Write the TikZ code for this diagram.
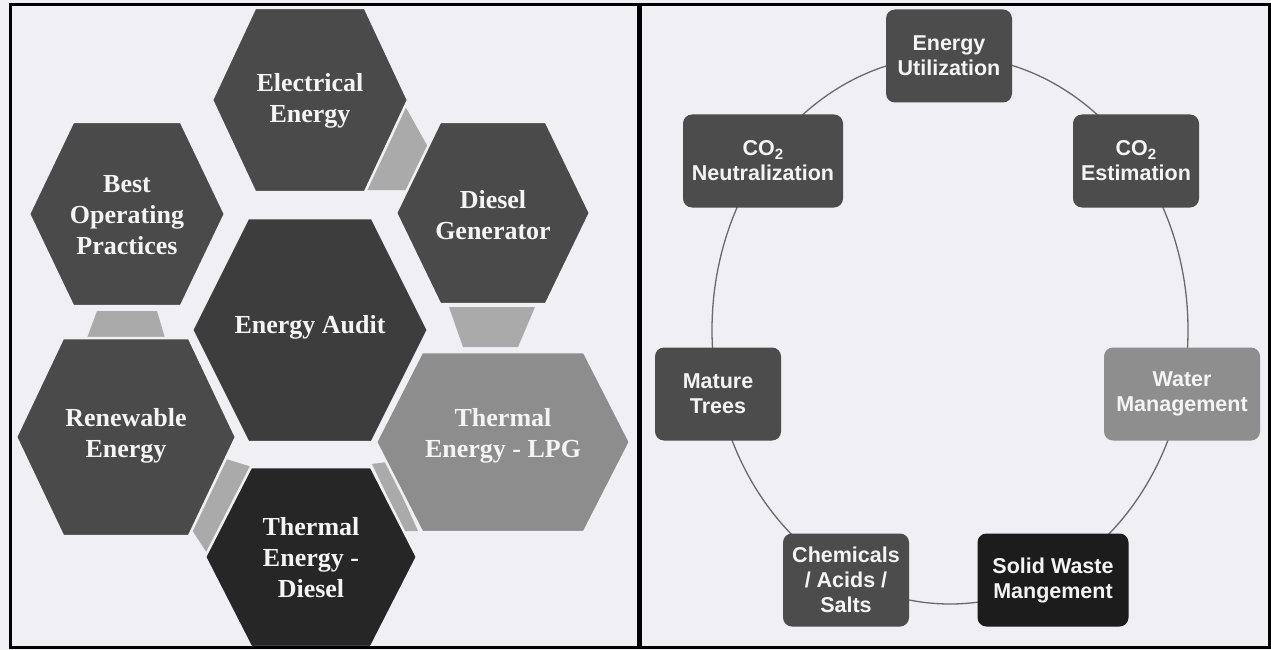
\documentclass[tikz,border=0pt]{standalone}
\usepackage{fontspec}
\setmainfont{Liberation Serif}
\newfontfamily\boxfont{Liberation Sans}
\definecolor{bgcol}{HTML}{EFEFF4}
\definecolor{hexdark}{HTML}{4A4A4A}
\definecolor{hexaudit}{HTML}{3D3D3D}
\definecolor{hexlight}{HTML}{8D8D8D}
\definecolor{hexblack}{HTML}{262626}
\definecolor{conncol}{HTML}{AAAAAA}
\definecolor{boxdark}{HTML}{4C4C4C}
\definecolor{boxlight}{HTML}{8E8E8E}
\definecolor{boxblack}{HTML}{1C1C1C}
\definecolor{txtwhite}{HTML}{F4F4F4}
\definecolor{ringcol}{HTML}{6A6A6A}
% #1 colour, #2 cx, #3 cy, #4 half width, #5 half top edge, #6 half height
\newcommand\myhex[6]{%
  \filldraw[fill=#1,draw=bgcol,line width=2.5pt]
    ({#2-#4},{#3}) -- ({#2-#5},{#3-#6}) -- ({#2+#5},{#3-#6}) --
    ({#2+#4},{#3}) -- ({#2+#5},{#3+#6}) -- ({#2-#5},{#3+#6}) -- cycle;}
\newcommand\cotwo{CO\raisebox{-4pt}{\fontsize{15}{15}\selectfont 2}}
\begin{document}
\begin{tikzpicture}[x=1pt,y=-1pt,
  hextext/.style={text=txtwhite,align=center,
    font=\bfseries\fontsize{26}{31}\selectfont},
  rbox/.style={rounded corners=9pt,minimum height=93pt,inner sep=2pt,
    text=txtwhite,align=center,
    font=\boxfont\bfseries\fontsize{21.5}{25}\selectfont},
  conn/.style={fill=conncol},
  frame/.style={draw=black,line width=3pt}]
\useasboundingbox (0,0) rectangle (1271,650);
\fill[bgcol] (0,0) rectangle (1271,650);

% ---------------- left panel ----------------
\begin{scope}
\clip (10,5) rectangle (639,647);
% connectors
\fill[conn] (405,106) -- (428,147) -- (407,190) -- (366,190) -- cycle;
\fill[conn] (97,311) -- (157,311) -- (165,338) -- (87,338) -- cycle;
\fill[conn] (449,307) -- (535,307) -- (518,347) -- (463,347) -- cycle;
\fill[conn] (226,459) -- (252,467) -- (207,553) -- (192,530) -- cycle;
\fill[conn] (372,464) -- (387,462) -- (418,531) -- (404,531) -- cycle;
% hexagons
\myhex{hexdark}{310}{100}{98}{55}{92}
\myhex{hexdark}{127}{214}{98}{54}{92}
\myhex{hexdark}{493}{213}{97}{53}{91}
\myhex{hexaudit}{310}{330}{118}{62}{112}
\myhex{hexdark}{126}{437}{110}{63}{99}
\myhex{hexlight}{503}{442}{127}{81}{90}
\myhex{hexblack}{311}{557}{106}{60}{90}
\node[hextext] (elec) at (310,101) {Electrical\\Energy};
\node[hextext] (best) at (127,215) {Best\\Operating\\Practices};
\node[hextext] (dg) at (493,215) {Diesel\\Generator};
\node[hextext] (audit) at (310,327) {Energy Audit};
\node[hextext] (ren) at (126,436) {Renewable\\Energy};
\node[hextext] (lpg) at (503,436) {Thermal\\Energy - LPG};
\node[hextext] (td) at (311,558) {Thermal\\Energy -\\Diesel};
\end{scope}

% ---------------- right panel ----------------
\draw[ringcol,line width=1.3pt] (950,330) ellipse [x radius=238pt, y radius=274pt];
\node[rbox,fill=boxdark,minimum width=126pt] (eu) at (949,56) {Energy\\Utilization};
\node[rbox,fill=boxdark,minimum width=126pt] (ce) at (1136,161) {\cotwo\\Estimation};
\node[rbox,fill=boxlight,minimum width=156pt] (wm) at (1182,394) {Water\\Management};
\node[rbox,fill=boxblack,minimum width=151pt] (sw) at (1053,580) {Solid Waste\\Mangement};
\node[rbox,fill=boxdark,minimum width=126pt] (ch) at (846,580) {Chemicals\\/ Acids /\\Salts};
\node[rbox,fill=boxdark,minimum width=126pt] (mt) at (718,394) {Mature\\Trees};
\node[rbox,fill=boxdark,minimum width=160pt] (cn) at (763,161) {\cotwo\\Neutralization};

% ---------------- frames ----------------
\draw[frame] (10,5) rectangle (1269,647);
\draw[black,line width=5pt] (639,5) -- (639,647);
\end{tikzpicture}
\end{document}
